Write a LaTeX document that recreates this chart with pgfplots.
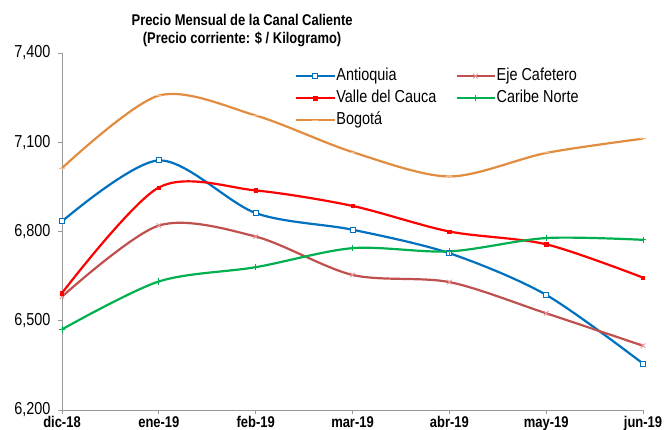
\documentclass[border=0pt]{standalone}
\usepackage{pgfplots}
\pgfplotsset{compat=1.18}
\usepackage{graphicx}
\usepackage{fontspec}
\setmainfont{Liberation Sans}
\definecolor{cAnt}{RGB}{0,112,192}
\definecolor{cEje}{RGB}{192,80,77}
\definecolor{cEjeM}{RGB}{230,150,150}
\definecolor{cVal}{RGB}{255,0,0}
\definecolor{cCar}{RGB}{0,176,80}
\definecolor{cBog}{RGB}{226,140,64}
\definecolor{cBogM}{RGB}{245,190,140}
\newcommand{\vs}[1]{\scalebox{1}[1.2]{#1}}
\begin{document}
\begin{tikzpicture}
\path[use as bounding box] (-62bp,-20bp) rectangle (603bp,410bp);
\begin{axis}[
  scale only axis,
  width=581bp, height=357bp,
  xmin=0, xmax=6, ymin=6200, ymax=7400,
  axis x line*=bottom, axis y line*=left,
  axis line style={-, draw=gray!80, line width=0.9bp},
  xtick={0,...,6},
  xticklabels={\vs{dic-18},\vs{ene-19},\vs{feb-19},\vs{mar-19},\vs{abr-19},\vs{may-19},\vs{jun-19}},
  ytick={6200,6500,6800,7100,7400},
  yticklabel={\vs{\pgfmathprintnumber{\tick}}},
  tick align=outside, tick style={draw=gray!80, line width=0.8bp},
  major tick length=4bp,
  xticklabel style={font=\bfseries\fontsize{13}{15}\selectfont, yshift=1bp},
  yticklabel style={font=\fontsize{14.5}{16}\selectfont, xshift=-4bp},
  /pgf/number format/.cd, 1000 sep={,}, assume math mode=true, /pgfplots/.cd,
  title={\vs{Precio Mensual de la Canal Caliente}\\\vs{(Precio corriente: \$ / Kilogramo)}},
  title style={at={(rel axis cs:0.31,1.067)}, anchor=center, align=center, yshift=-7bp,
    font=\bfseries\fontsize{13}{18}\selectfont},
  clip=false,
  legend columns=2,
  legend style={at={(rel axis cs:0.401,0.962)}, anchor=north west, draw=none, fill=none,
    font=\fontsize{14.5}{16}\selectfont, row sep=3bp, inner sep=0bp,
    nodes={inner sep=1bp, text height=13bp, text depth=4bp},
    /tikz/every even column/.append style={column sep=18bp}},
  legend cell align=left,
  legend image code/.code={\draw[mark repeat=2,mark phase=2] plot coordinates {(0bp,0bp) (19bp,0bp) (38bp,0bp)};},
  every axis plot/.append style={line width=2.2bp, smooth},
]
\addplot[color=cAnt, mark=square*, mark size=2.5bp, mark options={fill=white, line width=0.9bp, solid}]
  coordinates {(0,6834) (1,7039) (2,6862) (3,6806) (4,6727) (5,6587) (6,6356)};
\addlegendentry{\vs{Antioquia}}
\addplot[color=cEje, mark=x, mark size=3.2bp, mark options={draw=cEjeM, line width=0.9bp}]
  coordinates {(0,6581) (1,6820) (2,6783) (3,6654) (4,6630) (5,6525) (6,6416)};
\addlegendentry{\vs{Eje Cafetero}}
\addplot[color=cVal, mark=square*, mark size=1.7bp, mark options={line width=0.5bp}]
  coordinates {(0,6593) (1,6948) (2,6938) (3,6886) (4,6800) (5,6757) (6,6645)};
\addlegendentry{\vs{Valle del Cauca}}
\addplot[color=cCar, mark=+, mark size=3.2bp, mark options={line width=0.9bp}]
  coordinates {(0,6471) (1,6632) (2,6680) (3,6744) (4,6733) (5,6778) (6,6772)};
\addlegendentry{\vs{Caribe Norte}}
\addplot[color=cBog, mark=-, mark size=3bp, mark options={draw=cBogM, line width=1bp}]
  coordinates {(0,7013) (1,7257) (2,7190) (3,7067) (4,6985) (5,7064) (6,7112)};
\addlegendentry{\vs{Bogotá}}
\end{axis}
\end{tikzpicture}
\end{document}
